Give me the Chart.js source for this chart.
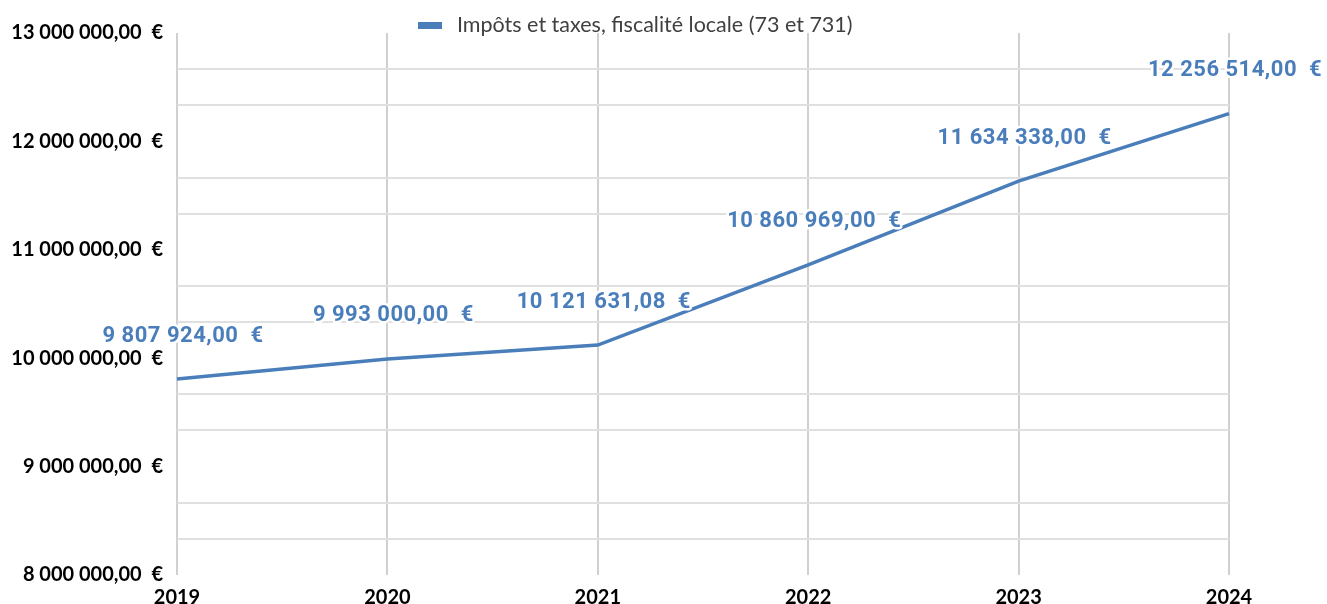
<!DOCTYPE html>
<html>
<head>
<meta charset="utf-8">
<script src="https://cdn.jsdelivr.net/npm/chart.js@4.4.0/dist/chart.umd.min.js"></script>
<style>
  html, body { margin: 0; padding: 0; background: #fff; }
  #wrap { width: 1327px; height: 604px; position: relative; }
</style>
</head>
<body>
<div id="wrap"><canvas id="myChart"></canvas></div>
<script>
// data
var years = ['2019', '2020', '2021', '2022', '2023', '2024'];
var values = [9807924.00, 9993000.00, 10121631.08, 10860969.00, 11634338.00, 12256514.00];
var seriesName = 'Impôts et taxes, fiscalité locale (73 et 731)';
var yMin = 8000000;
var yMax = 13000000;
var yMajorStep = 1000000;
var yMinorPerMajor = 3;

var blue = '#4a7ebb';

// 10121631.08 -> "10 121 631,08  €"
function euro(v) {
  var parts = v.toFixed(2).split('.');
  var intPart = parts[0].replace(/\B(?=(\d{3})+(?!\d))/g, ' ');
  return intPart + ',' + parts[1] + '\u00a0\u00a0€';
}

function isMajor(v) {
  var r = v / yMajorStep;
  return Math.abs(r - Math.round(r)) < 1e-6;
}

// value labels above each point, with a white halo like the original
const labelPlugin = {
  id: 'valueLabels',
  afterDatasetsDraw(chart) {
    var c = chart.ctx;
    var meta = chart.getDatasetMeta(0);
    c.save();
    c.font = 'bold 22px Roboto';
    c.letterSpacing = '0.5px';
    c.textAlign = 'center';
    c.textBaseline = 'middle';
    c.lineJoin = 'round';
    meta.data.forEach(function (pt, i) {
      var txt = euro(values[i]);
      var x = pt.x + 6;
      var y = pt.y - 43;
      c.strokeStyle = '#ffffff';
      c.lineWidth = 5;
      c.strokeText(txt, x, y);
      c.fillStyle = blue;
      c.fillText(txt, x, y);
    });
    c.restore();
  }
};

// legend drawn by hand so it sits where the original has it
const legendPlugin = {
  id: 'topLegend',
  afterDraw(chart) {
    var c = chart.ctx;
    c.save();
    c.fillStyle = blue;
    c.fillRect(418, 22, 24, 7);
    c.font = '21.5px Lato';
    c.fillStyle = '#404040';
    c.textAlign = 'left';
    c.textBaseline = 'middle';
    c.fillText(seriesName, 457, 25);
    c.restore();
  }
};

const ctx = document.getElementById('myChart');

const chart = new Chart(ctx, {
  type: 'line',
  data: {
    labels: years,
    datasets: [{
      label: seriesName,
      data: values,
      borderColor: blue,
      backgroundColor: blue,
      borderWidth: 3.5,
      pointRadius: 0,
      tension: 0
    }]
  },
  options: {
    responsive: true,
    maintainAspectRatio: false,
    animation: false,
    layout: {
      padding: { top: 33, right: 98, left: 0, bottom: 0 }
    },
    plugins: {
      legend: { display: false },
      tooltip: { enabled: false }
    },
    scales: {
      x: {
        offset: false,
        border: { display: false },
        grid: {
          color: '#d0d0d0',
          lineWidth: 2,
          drawTicks: false
        },
        ticks: {
          color: '#000',
          font: { family: 'Lato', size: 20, weight: 'bold' },
          padding: 11,
          maxRotation: 0
        },
        afterFit: function (scale) { scale.height = 29; }
      },
      y: {
        min: yMin,
        max: yMax,
        border: { display: false },
        afterBuildTicks: function (scale) {
          var ticks = [];
          var n = (yMax - yMin) / yMajorStep * yMinorPerMajor;
          for (var i = 0; i <= n; i++) {
            ticks.push({ value: yMin + i * yMajorStep / yMinorPerMajor });
          }
          scale.ticks = ticks;
        },
        grid: {
          drawTicks: false,
          lineWidth: 2,
          color: function (c) {
            return isMajor(c.tick.value) ? 'rgba(0,0,0,0)' : '#e0e0e0';
          }
        },
        ticks: {
          autoSkip: false,
          color: '#000',
          font: { family: 'Lato', size: 20, weight: 'bold' },
          padding: 14,
          callback: function (v) {
            return isMajor(v) ? euro(v) : '';
          }
        },
        afterFit: function (scale) { scale.width = 177; }
      }
    }
  },
  plugins: [labelPlugin, legendPlugin]
});
</script>
</body>
</html>
